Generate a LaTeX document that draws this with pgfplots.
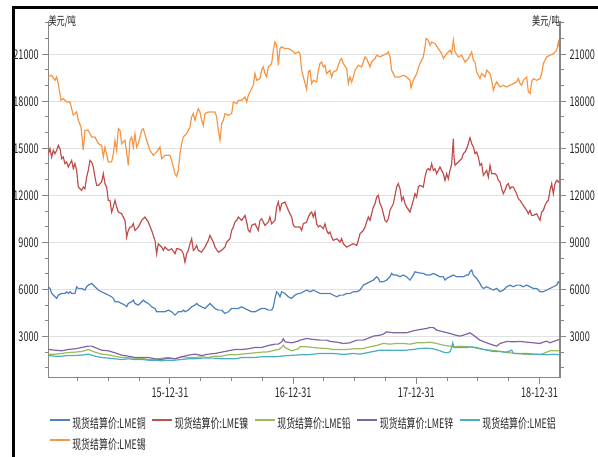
\documentclass[border=0pt]{standalone}
\usepackage{fontspec}
\setmainfont{Noto Sans CJK SC}[FakeStretch=0.68]
\usepackage{pgfplots}
\pgfplotsset{compat=1.18}
\definecolor{cu}{HTML}{4F81BD}
\definecolor{ni}{HTML}{C0504D}
\definecolor{pb}{HTML}{9BBB59}
\definecolor{zn}{HTML}{8064A2}
\definecolor{al}{HTML}{4BACC6}
\definecolor{sn}{HTML}{F79646}
\definecolor{axgray}{HTML}{868686}
\begin{document}
\begin{tikzpicture}
\path[use as bounding box] (0,0) rectangle (598bp,457bp);
\draw[line width=2.5bp] (13.3bp,0) -- (13.3bp,449.7bp) -- (598bp,449.7bp);
\pgfplotsset{
  common/.style={
    at={(48.3bp,79.3bp)}, anchor=south west, scale only axis,
    width=511.7bp, height=357bp,
    xmin=10, xmax=1545, ymin=370, ymax=23140,
    clip=false,
    tick align=outside,
    scaled y ticks=false,
    ytick={3000,6000,9000,12000,15000,18000,21000},
    minor ytick={1000,2000,4000,5000,7000,8000,10000,11000,13000,14000,16000,17000,19000,20000,22000,23000},
    major tick length=6bp, minor tick length=3.5bp,
    tick style={draw=axgray, line width=1bp},
    axis line style={draw=axgray, line width=1.3bp},
    tick label style={font=\fontsize{13.5}{13.5}\selectfont, text=black!85},
    /pgf/number format/assume math mode=true,
    /pgf/number format/1000 sep={},
  }
}
\begin{axis}[common,
  axis x line*=bottom, axis y line*=left,
  xtick={375,744.5,1114,1483.5},
  xticklabels={15-12-31,16-12-31,17-12-31,18-12-31},
  minor xtick={97.9,190.3,282.6,467.4,559.8,652.1,836.9,929.3,1021.6,1206.4,1298.8,1391.1},
  x tick label style={yshift=-1bp},
  ymajorgrids, grid style={draw=black!12, line width=0.7bp},
  every axis plot/.append style={line width=1.2bp},
  legend columns=5,
  legend cell align=left,
  legend image code/.code={\draw[#1, line width=2bp] (0bp,4.2bp) -- (20bp,4.2bp);},
  legend style={at={(rel axis cs:0,0)}, anchor=north west, xshift=0.5bp, yshift=-40bp,
    draw=none, fill=none, inner sep=0pt, outer sep=0pt, row sep=8bp,
    font=\fontsize{13.2}{13.2}\selectfont, text=black!85,
    nodes={inner sep=0pt},
    /tikz/every odd column/.style={column sep=1.5bp},
    /tikz/every even column/.style={column sep=5.5bp}},
]
\addplot[cu] coordinates {(10,6170)(15,6063)(20,5744)(30,5532)(35,5425)(40,5638)(50,5744)(60,5744)(65,5851)(70,5744)(75,5851)(80,5744)(90,5744)(95,6170)(100,6063)(110,6063)(120,5957)(125,6170)(130,6276)(140,6383)(145,6276)(150,6170)(160,5957)(170,5851)(180,5744)(190,5638)(200,5532)(205,5425)(210,5212)(220,5212)(230,5106)(240,5000)(245,4893)(250,5106)(260,5212)(265,5319)(270,5106)(280,5000)(290,5212)(295,5319)(300,5212)(310,5106)(320,4893)(330,4787)(335,4574)(340,4574)(350,4574)(360,4574)(370,4680)(380,4574)(385,4468)(390,4361)(400,4574)(410,4574)(415,4680)(420,4574)(430,4680)(440,4893)(450,5000)(455,5106)(460,5000)(470,4893)(480,4787)(490,5000)(495,5106)(500,5000)(510,4787)(520,4680)(530,4680)(535,4574)(540,4468)(550,4574)(560,4787)(570,4787)(580,4787)(590,4893)(600,4787)(610,4680)(620,4574)(630,4574)(640,4680)(650,4787)(660,4787)(670,4680)(680,4680)(685,4893)(690,5425)(695,5851)(700,5744)(705,5532)(710,5851)(720,5744)(730,5532)(740,5425)(750,5638)(760,5744)(765,5744)(775,5851)(785,5957)(795,5851)(805,5957)(815,5851)(825,5744)(835,5744)(845,5744)(855,5744)(865,5638)(875,5532)(885,5638)(895,5638)(905,5744)(915,5744)(925,5851)(935,5851)(945,5957)(955,6276)(965,6383)(975,6489)(985,6595)(995,6808)(1000,6702)(1005,6489)(1015,6489)(1025,6595)(1035,6808)(1040,7021)(1045,6915)(1055,6915)(1065,6808)(1075,6915)(1085,6808)(1095,6595)(1105,6915)(1110,7127)(1120,7063)(1135,7021)(1145,6915)(1155,6915)(1165,7021)(1175,6915)(1185,6808)(1195,6808)(1200,6595)(1205,6702)(1215,6808)(1225,6915)(1235,6808)(1245,6808)(1255,6808)(1265,6915)(1270,6915)(1275,7127)(1280,7234)(1285,6915)(1295,6702)(1305,6383)(1310,6170)(1315,6063)(1325,6170)(1335,6063)(1345,5957)(1355,6063)(1365,5851)(1375,5957)(1385,6170)(1395,6276)(1405,6170)(1415,6276)(1425,6276)(1435,6170)(1445,6276)(1455,6170)(1465,6063)(1475,6063)(1485,5851)(1495,5851)(1505,5957)(1515,6063)(1525,6170)(1535,6276)(1540,6489)(1543,6420)};
\addlegendentry{现货结算价:LME铜}
\addplot[ni] coordinates {(10,14660)(15,14979)(20,14447)(25,14872)(30,14660)(35,14872)(40,15191)(45,14979)(50,14340)(55,14447)(60,14021)(65,14128)(70,13808)(75,14021)(80,14234)(85,13702)(90,14021)(95,13596)(100,12532)(105,12425)(110,12319)(115,12532)(120,12425)(125,13170)(130,13596)(135,14234)(140,14128)(145,13808)(150,13170)(155,12638)(160,12638)(165,12745)(170,12851)(175,13383)(180,12745)(185,12532)(190,11681)(195,11681)(200,10936)(205,11255)(210,11681)(215,11255)(220,10936)(230,10830)(240,10404)(245,9340)(250,9766)(255,9979)(260,9979)(265,10191)(270,9766)(280,9979)(290,10404)(300,10617)(310,10298)(320,9766)(330,9127)(335,8276)(340,8915)(350,8702)(355,8489)(360,8702)(370,8489)(380,8595)(390,8276)(395,8595)(400,8595)(410,8489)(415,8276)(420,7744)(425,8276)(430,8489)(435,8915)(440,9234)(445,8489)(450,8595)(455,8808)(460,8489)(470,8383)(480,8702)(490,9127)(495,9447)(500,9234)(505,9021)(510,8702)(520,8383)(530,8489)(540,8702)(545,9021)(550,9127)(555,9234)(560,9766)(565,9979)(570,10298)(575,10404)(580,10617)(590,10404)(600,10723)(605,10298)(610,9766)(615,9659)(620,10085)(630,10191)(640,9766)(645,10404)(650,10511)(660,10085)(670,10298)(675,10617)(680,10191)(690,10404)(695,11255)(700,11574)(705,11042)(710,11468)(720,11574)(730,11042)(740,10617)(745,10085)(750,9979)(760,9979)(765,9979)(770,9766)(775,10191)(785,10298)(790,10617)(795,10830)(800,10936)(805,10617)(810,10936)(815,10191)(820,9979)(825,10085)(835,9872)(840,10191)(845,9766)(850,9553)(855,9659)(860,9340)(865,9127)(875,9234)(885,9021)(890,9234)(895,8915)(900,8808)(905,8702)(915,8808)(925,8915)(935,8808)(940,9127)(945,9553)(955,9766)(960,9979)(965,10298)(970,10617)(975,10404)(980,10830)(985,11255)(990,11468)(995,11893)(1000,12000)(1005,11468)(1010,11255)(1015,10830)(1020,10404)(1025,10298)(1030,10511)(1035,11042)(1045,11468)(1055,12532)(1060,12745)(1065,12425)(1070,11681)(1075,11893)(1080,11468)(1085,11255)(1095,10936)(1105,11681)(1110,12106)(1115,11893)(1120,12532)(1125,12638)(1135,12532)(1140,13170)(1145,13596)(1150,13702)(1155,13596)(1160,14021)(1165,13596)(1170,13702)(1175,13383)(1185,13808)(1190,13596)(1195,13383)(1200,12957)(1205,13383)(1210,13064)(1215,13596)(1220,14021)(1225,15617)(1227,14447)(1230,13915)(1240,14128)(1250,14340)(1255,14660)(1260,14766)(1265,14979)(1270,15298)(1275,15681)(1280,15298)(1285,15085)(1290,14660)(1295,14766)(1300,14447)(1305,13915)(1310,14021)(1315,13277)(1325,13596)(1330,13170)(1335,13915)(1340,13383)(1350,13383)(1355,13277)(1360,12957)(1365,12851)(1370,12425)(1375,12106)(1380,12319)(1385,12638)(1390,12745)(1395,12425)(1400,12532)(1405,12532)(1410,12319)(1415,12106)(1420,11787)(1425,11681)(1435,11362)(1445,11042)(1450,10830)(1455,11042)(1460,10723)(1465,10723)(1475,10830)(1480,10617)(1485,10404)(1490,10936)(1495,11042)(1500,11362)(1505,11574)(1510,11681)(1515,12319)(1520,12745)(1525,12106)(1530,12745)(1535,12957)(1540,12851)(1543,12957)};
\addlegendentry{现货结算价:LME镍}
\addplot[pb] coordinates {(10,1872)(30,1872)(50,1914)(70,1978)(90,2000)(110,2042)(130,2170)(150,2000)(170,1872)(190,1829)(210,1744)(230,1659)(250,1638)(270,1617)(290,1595)(310,1532)(330,1532)(350,1617)(370,1659)(390,1574)(410,1702)(430,1659)(450,1659)(470,1702)(490,1659)(510,1744)(530,1744)(550,1829)(570,1829)(590,1872)(610,1914)(630,1957)(650,2000)(670,2021)(690,2127)(700,2170)(710,2297)(715,2446)(720,2297)(740,2085)(760,2212)(765,2340)(785,2340)(805,2297)(825,2255)(845,2234)(865,2170)(885,2170)(905,2170)(925,2212)(945,2212)(955,2234)(975,2340)(995,2425)(1015,2553)(1035,2510)(1055,2553)(1075,2553)(1095,2510)(1115,2595)(1135,2595)(1155,2638)(1175,2553)(1195,2446)(1215,2383)(1225,2340)(1245,2383)(1265,2340)(1275,2340)(1295,2255)(1315,2170)(1335,2127)(1355,2085)(1375,2000)(1395,1957)(1415,1914)(1435,1872)(1455,1872)(1475,1872)(1485,1829)(1495,1914)(1505,2000)(1515,2085)(1543,2085)};
\addlegendentry{现货结算价:LME铅}
\addplot[zn] coordinates {(10,2170)(30,2127)(50,2085)(70,2170)(90,2212)(110,2297)(130,2383)(140,2383)(150,2297)(170,2127)(190,2085)(210,1957)(230,1808)(250,1744)(270,1659)(290,1659)(310,1659)(330,1574)(350,1532)(370,1617)(390,1574)(410,1702)(430,1808)(450,1872)(470,1787)(490,1872)(510,1914)(530,2000)(550,2085)(570,2170)(590,2170)(610,2212)(630,2297)(650,2297)(670,2425)(690,2510)(700,2510)(710,2659)(715,2851)(720,2659)(740,2595)(760,2702)(765,2766)(785,2872)(805,2808)(825,2766)(845,2766)(855,2681)(875,2638)(895,2553)(915,2595)(935,2766)(955,2766)(965,2851)(985,3021)(1005,3085)(1015,3149)(1025,3297)(1045,3234)(1065,3234)(1085,3234)(1105,3361)(1125,3446)(1145,3510)(1155,3574)(1165,3574)(1175,3404)(1195,3297)(1215,3191)(1235,3063)(1245,3021)(1265,3149)(1275,3234)(1285,3085)(1305,2766)(1325,2595)(1345,2446)(1355,2383)(1365,2553)(1385,2681)(1405,2659)(1425,2681)(1445,2638)(1465,2595)(1485,2553)(1495,2638)(1505,2702)(1515,2595)(1525,2681)(1543,2808)};
\addlegendentry{现货结算价:LME锌}
\addplot[al] coordinates {(10,1787)(30,1744)(50,1744)(70,1787)(90,1787)(110,1808)(130,1872)(150,1744)(170,1659)(190,1617)(210,1574)(230,1532)(250,1574)(270,1532)(290,1532)(310,1489)(330,1489)(350,1446)(370,1489)(390,1489)(410,1532)(430,1574)(450,1574)(470,1617)(490,1617)(510,1617)(530,1574)(550,1574)(570,1574)(590,1659)(610,1659)(630,1659)(650,1702)(670,1702)(690,1702)(710,1744)(730,1787)(750,1808)(765,1829)(785,1829)(805,1872)(825,1914)(845,1914)(865,1914)(885,1872)(905,1872)(925,1914)(945,1872)(965,1957)(985,2042)(1005,2127)(1025,2127)(1045,2127)(1065,2127)(1085,2127)(1105,2170)(1125,2234)(1145,2255)(1165,2212)(1185,2085)(1195,2000)(1205,1957)(1215,2021)(1220,2297)(1223,2595)(1227,2297)(1245,2297)(1265,2297)(1275,2340)(1295,2297)(1305,2234)(1325,2127)(1345,2042)(1365,2042)(1385,2000)(1395,2085)(1400,2127)(1405,1914)(1425,1914)(1445,1914)(1465,1872)(1485,1872)(1505,1829)(1525,1872)(1543,1829)};
\addlegendentry{现货结算价:LME铝}
\addplot[sn] coordinates {(10,19553)(20,19660)(30,19340)(35,19553)(40,19128)(48,18064)(55,18170)(65,17957)(75,17957)(85,17106)(95,17319)(100,16787)(108,16362)(115,14872)(120,16149)(130,16149)(140,15723)(150,15723)(160,15298)(170,15191)(175,14447)(180,15085)(190,14128)(200,14128)(205,14660)(210,15511)(215,14872)(220,16255)(225,16149)(230,15298)(240,15511)(250,13915)(255,15511)(260,15723)(265,15085)(270,15936)(275,15085)(280,15298)(290,16149)(295,16255)(305,15511)(315,14872)(325,14553)(335,14766)(345,15085)(350,14340)(360,14553)(375,14553)(380,14234)(390,13383)(395,13213)(400,13596)(405,14660)(410,15298)(415,15723)(425,15936)(430,16149)(435,16362)(440,17000)(445,17213)(450,16787)(455,17213)(460,17532)(465,17319)(470,16787)(475,16468)(480,17213)(490,17319)(500,17319)(510,17319)(515,17000)(520,16149)(525,15511)(530,16574)(535,16787)(540,17213)(550,17106)(560,17213)(565,17957)(575,17851)(580,18064)(590,18064)(600,18277)(605,17957)(610,18383)(620,18809)(625,19021)(630,19766)(635,19340)(645,19447)(650,19979)(655,20192)(660,19766)(665,19553)(670,20192)(680,20404)(685,21255)(690,21787)(695,21575)(700,20298)(705,21362)(710,21468)(720,21362)(730,21362)(740,21255)(750,21043)(760,21149)(765,21043)(770,19979)(775,19553)(785,18745)(790,19872)(795,19979)(800,19128)(805,19340)(815,19234)(820,19979)(825,20404)(830,20511)(835,20192)(840,20298)(845,19766)(855,19979)(860,19553)(865,19872)(875,19979)(885,20617)(890,20723)(895,20404)(905,20085)(910,19128)(915,19553)(920,19234)(925,19553)(930,19979)(940,20298)(950,20192)(955,20511)(960,20830)(965,20723)(975,20192)(980,20511)(990,20723)(995,20936)(1005,20830)(1015,20936)(1025,21043)(1030,21149)(1035,20830)(1040,19979)(1050,19553)(1065,19553)(1075,19660)(1085,19553)(1095,19340)(1098,18872)(1105,19340)(1115,19766)(1125,20404)(1135,20830)(1140,21468)(1143,22000)(1150,21894)(1155,21575)(1160,21787)(1170,21681)(1180,21362)(1190,21043)(1195,20723)(1205,21043)(1215,21255)(1220,21043)(1225,21894)(1230,21149)(1240,20830)(1250,20936)(1260,20511)(1270,20723)(1280,21149)(1285,20617)(1290,20511)(1295,19872)(1305,19447)(1310,19766)(1320,19553)(1325,19979)(1335,19766)(1340,19340)(1345,18702)(1350,19021)(1355,19234)(1365,18915)(1375,19021)(1385,18915)(1395,19021)(1405,19128)(1415,19234)(1420,19447)(1425,19128)(1430,19021)(1435,19340)(1445,19553)(1450,18596)(1455,18489)(1460,19234)(1465,19447)(1475,19340)(1485,19447)(1490,19766)(1495,20404)(1505,20830)(1515,20936)(1525,21043)(1535,21255)(1540,21787)(1543,21468)};
\addlegendentry{现货结算价:LME锡}
\node[anchor=west, font=\fontsize{12}{12}\selectfont, text=black!85, inner sep=0pt] at ([yshift=-0.6bp]rel axis cs:0,1) {美元/吨};
\end{axis}
\begin{axis}[common,
  axis x line=none, axis y line*=right,
  ytick pos=right,
]
\node[anchor=east, font=\fontsize{12}{12}\selectfont, text=black!85, inner sep=0pt] at ([yshift=-0.6bp]rel axis cs:1,1) {美元/吨};
\end{axis}
\end{tikzpicture}
\end{document}
